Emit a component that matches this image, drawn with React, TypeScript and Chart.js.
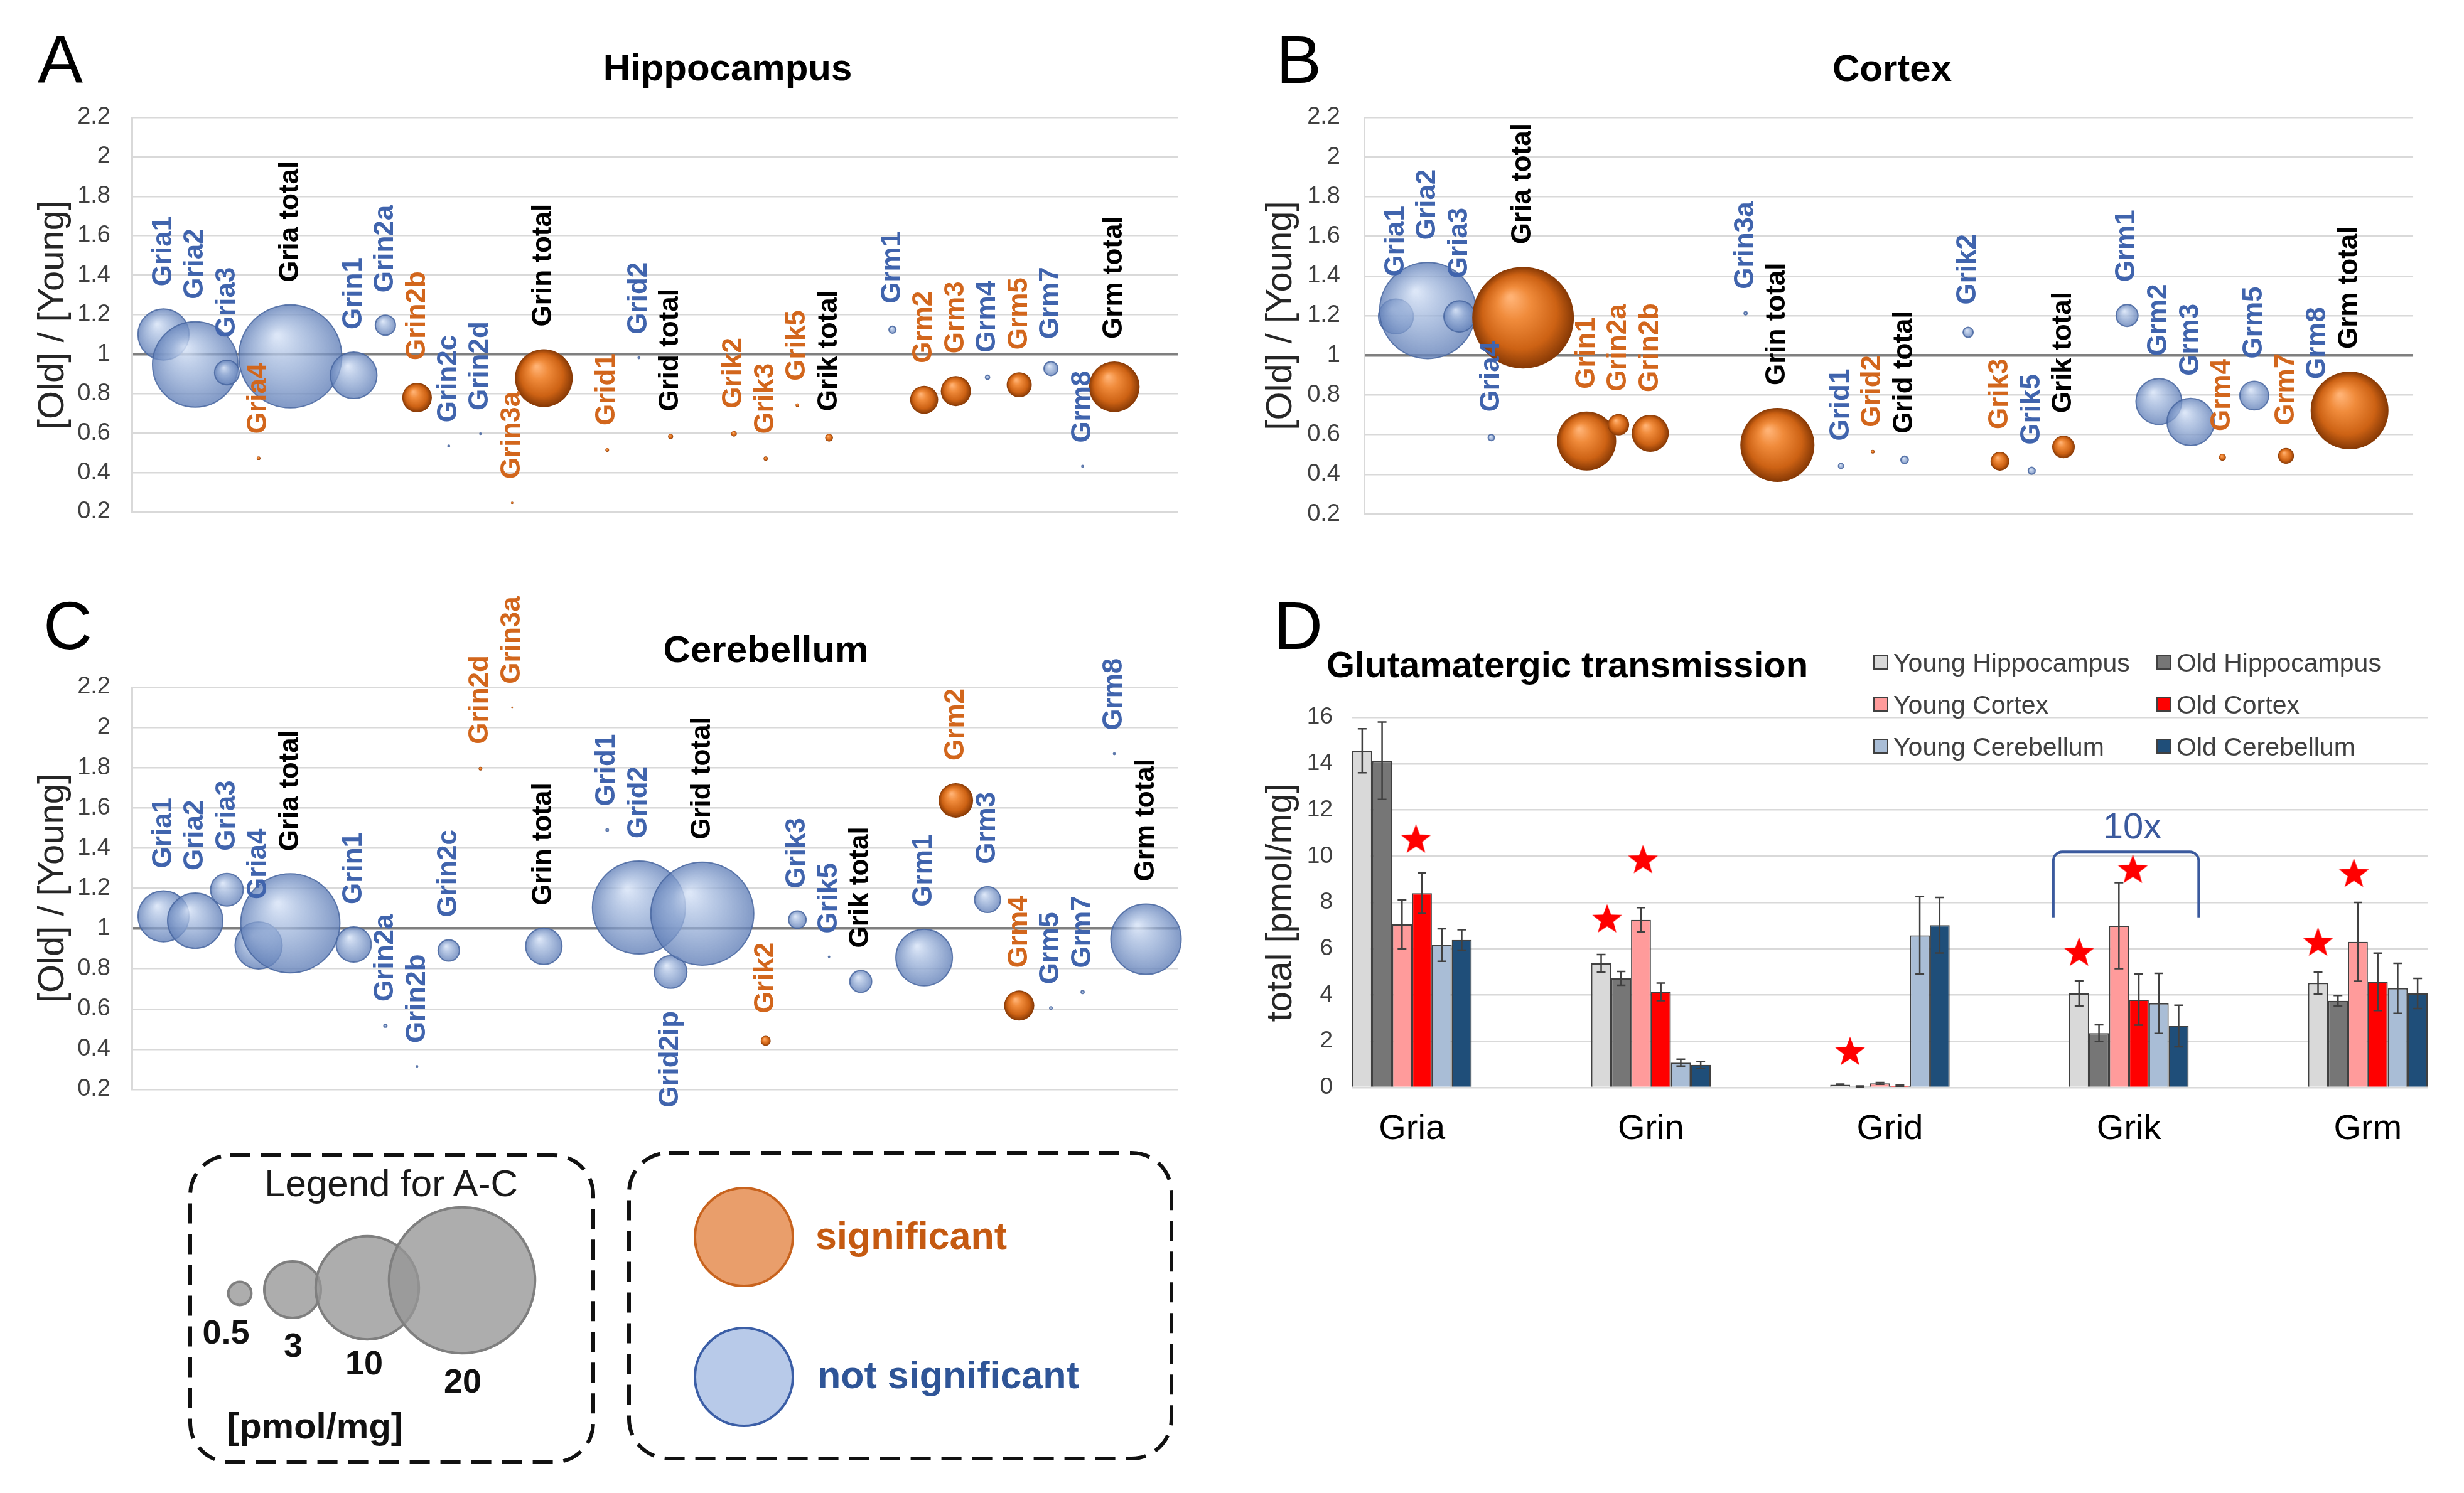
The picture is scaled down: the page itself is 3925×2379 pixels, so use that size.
import React, { useEffect, useRef } from 'react';
import { Chart, registerables } from 'chart.js';

Chart.register(...registerables);

const FONT = '"Liberation Sans", Arial, Helvetica, sans-serif';

// ---------------- Panels A–C : [Old]/[Young] ratio bubbles ----------------
const GENES = ['Gria1', 'Gria2', 'Gria3', 'Gria4', 'Gria total', 'Grin1', 'Grin2a', 'Grin2b', 'Grin2c', 'Grin2d', 'Grin3a', 'Grin total', 'Grid1', 'Grid2', 'Grid total', 'Grik2', 'Grik3', 'Grik5', 'Grik total', 'Grm1', 'Grm2', 'Grm3', 'Grm4', 'Grm5', 'Grm7', 'Grm8', 'Grm total'];
const GENES_CB = ['Gria1', 'Gria2', 'Gria3', 'Gria4', 'Gria total', 'Grin1', 'Grin2a', 'Grin2b', 'Grin2c', 'Grin2d', 'Grin3a', 'Grin total', 'Grid1', 'Grid2', 'Grid2ip', 'Grid total', 'Grik2', 'Grik3', 'Grik5', 'Grik total', 'Grm1', 'Grm2', 'Grm3', 'Grm4', 'Grm5', 'Grm7', 'Grm8', 'Grm total'];

// Hippocampus
const HIPPO_RATIO = [1.10, 0.948, 0.907, 0.473, 0.989, 0.893, 1.147, 0.78, 0.535, 0.597, 0.247, 0.879, 0.515, 0.982, 0.583, 0.597, 0.471, 0.742, 0.577, 1.124, 0.769, 0.813, 0.883, 0.845, 0.927, 0.432, 0.835];
const HIPPO_AMOUNT = [2.45, 6.84, 0.57, 0.013, 9.95, 2.03, 0.38, 0.82, 0.003, 0.002, 0.006, 3.13, 0.013, 0.003, 0.024, 0.03, 0.017, 0.012, 0.057, 0.046, 0.74, 0.85, 0.017, 0.59, 0.18, 0.003, 2.41];
const HIPPO_SIG = [0, 0, 0, 1, 0, 0, 0, 1, 0, 0, 1, 1, 1, 0, 1, 1, 1, 1, 1, 0, 1, 1, 0, 1, 0, 0, 1];

// Cortex (Grin2c / Grin2d not detected)
const CORTEX_RATIO = [1.196, 1.226, 1.196, 0.585, 1.19, 0.568, 0.65, 0.607, null, null, 1.212, 0.548, 0.442, 0.514, 0.473, 1.116, 0.466, 0.418, 0.538, 1.201, 0.767, 0.664, 0.486, 0.797, 0.493, 0.76, 0.722];
const CORTEX_AMOUNT = [1.14, 8.68, 0.92, 0.037, 9.7, 3.27, 0.43, 1.29, null, null, 0.009, 5.15, 0.024, 0.013, 0.053, 0.095, 0.33, 0.046, 0.48, 0.45, 1.97, 2.09, 0.046, 0.78, 0.235, 0.006, 5.69];
const CORTEX_SIG = [0, 0, 0, 0, 1, 1, 1, 1, 0, 0, 0, 1, 0, 1, 0, 0, 1, 0, 1, 0, 0, 0, 1, 0, 1, 0, 1];

// Cerebellum
const CB_RATIO = [1.061, 1.039, 1.193, 0.916, 1.026, 0.921, 0.517, 0.315, 0.891, 1.795, 2.10, 0.912, 1.49, 1.105, 0.784, 1.074, 0.442, 1.044, 0.86, 0.737, 0.856, 1.637, 1.144, 0.617, 0.605, 0.684, 1.869, 0.947];
const CB_AMOUNT = [2.44, 2.86, 1.0, 2.08, 9.23, 1.16, 0.009, 0.0015, 0.43, 0.013, 0.003, 1.24, 0.006, 8.1, 1.0, 9.95, 0.095, 0.29, 0.0015, 0.45, 3.0, 1.12, 0.63, 0.85, 0.006, 0.009, 0.003, 4.64];
const CB_SIG = [0, 0, 0, 0, 0, 0, 0, 0, 0, 1, 1, 0, 0, 0, 0, 0, 1, 0, 0, 0, 0, 1, 0, 1, 0, 0, 0, 0];
const CB_LABEL_BELOW = ['Grid2ip'];

const RATIO_TICKS = { min: 0.2, max: 2.2, step: 0.2 };
const SIZE_LEGEND = [0.5, 3, 10, 20];

// ---------------- Panel D : totals ----------------
const D_CATS = ['Gria', 'Grin', 'Grid', 'Grik', 'Grm'];
const D_SERIES = ['Young Hippocampus', 'Old Hippocampus', 'Young Cortex', 'Old Cortex', 'Young Cerebellum', 'Old Cerebellum'];
const YOUNG_HIPPO = [14.56, 5.37, 0.12, 4.07, 4.52];
const OLD_HIPPO = [14.13, 4.72, 0.05, 2.35, 3.75];
const YOUNG_CORTEX = [7.05, 7.25, 0.18, 7.0, 6.3];
const OLD_CORTEX = [8.4, 4.14, 0.08, 3.8, 4.57];
const YOUNG_CB = [6.16, 1.08, 6.58, 3.64, 4.29];
const OLD_CB = [6.38, 0.98, 7.02, 2.66, 4.07];
const YOUNG_HIPPO_ERR = [0.95, 0.38, 0.03, 0.55, 0.48];
const OLD_HIPPO_ERR = [1.67, 0.3, 0.02, 0.36, 0.23];
const YOUNG_CORTEX_ERR = [1.06, 0.53, 0.04, 1.86, 1.7];
const OLD_CORTEX_ERR = [0.87, 0.38, 0.02, 1.1, 1.24];
const YOUNG_CB_ERR = [0.7, 0.15, 1.68, 1.3, 1.08];
const OLD_CB_ERR = [0.44, 0.15, 1.2, 0.9, 0.65];
const D_VALUES = [YOUNG_HIPPO, OLD_HIPPO, YOUNG_CORTEX, OLD_CORTEX, YOUNG_CB, OLD_CB];
const D_ERRORS = [YOUNG_HIPPO_ERR, OLD_HIPPO_ERR, YOUNG_CORTEX_ERR, OLD_CORTEX_ERR, YOUNG_CB_ERR, OLD_CB_ERR];
const D_COLORS = ['#d9d9d9', '#767676', '#ff9b9b', '#ff0000', '#a9bdd6', '#1f4e79'];

// significance stars: category, bar slot (0..5 within group), height
const STAR_CAT = [0, 1, 1, 2, 3, 3, 4, 4];
const STAR_SLOT = [2.7, 0.3, 2.1, 0.5, 0, 2.7, 0, 1.8];
const STAR_Y = [10.73, 7.28, 9.84, 1.55, 5.84, 9.42, 6.27, 9.25];

const BRACKET_CAT = 3;
const BRACKET_SPAN = [-0.316, 0.292];
const BRACKET_TOP = 10.19;
const BRACKET_BOTTOM = 7.36;
const BRACKET_TEXT_Y = 11.2;
const BRACKET_LABEL = '10x';

// ---------------- styling constants ----------------
const K_BUBBLE = 26; // px radius per sqrt(pmol/mg)
const LABEL_GAP = 36;
const ORANGE_LABEL = '#d2661c';
const BLUE_LABEL = '#4064ad';
const GROUP_WIDTH = 0.5;

function familyOf(name: string) {
  return name.split(' ')[0].replace(/\d.*$/, '');
}
function positions(names: string[]) {
  let idx = 0;
  let prev = '';
  return names.map((n) => {
    const f = familyOf(n);
    idx += prev && f !== prev ? 2 : 1;
    prev = f;
    return idx;
  });
}
function buildPoints(names: string[], ratio: (number | null)[], amount: (number | null)[], sig: number[]) {
  const xs = positions(names);
  const pts: any[] = [];
  names.forEach((n, i) => {
    if (ratio[i] == null || amount[i] == null) return;
    pts.push({ x: xs[i], y: ratio[i], r: K_BUBBLE * Math.sqrt(amount[i] as number), name: n, sig: !!sig[i] });
  });
  return pts;
}

function sphereFill(c: any) {
  const raw = c.raw;
  const chart = c.chart;
  const fallback = raw && raw.sig ? '#d86a1c' : 'rgba(130,160,210,0.7)';
  if (!raw || !chart || !chart.scales || !chart.scales.x || !chart.scales.y) return fallback;
  const x = chart.scales.x.getPixelForValue(raw.x);
  const y = chart.scales.y.getPixelForValue(raw.y);
  const r = Math.max(raw.r, 0.8);
  if (!Number.isFinite(x) || !Number.isFinite(y) || !Number.isFinite(r)) return fallback;
  const g = chart.ctx.createRadialGradient(x - r * 0.25, y - r * 0.4, r * 0.04, x, y, r);
  if (raw.sig) {
    g.addColorStop(0, '#ffb274');
    g.addColorStop(0.3, '#f08b3b');
    g.addColorStop(0.72, '#cd6214');
    g.addColorStop(1, '#853805');
  } else {
    g.addColorStop(0, 'rgba(214,226,246,0.85)');
    g.addColorStop(0.45, 'rgba(150,174,215,0.74)');
    g.addColorStop(1, 'rgba(98,128,184,0.8)');
  }
  return g;
}

const geneLabels = {
  id: 'geneLabels',
  afterDatasetsDraw(chart: any, _args: any, opts: any) {
    const { ctx } = chart;
    const ds = chart.data.datasets[0];
    const meta = chart.getDatasetMeta(0);
    const below: string[] = (opts && opts.below) || [];
    ctx.save();
    ctx.font = `bold 44px ${FONT}`;
    ctx.textBaseline = 'middle';
    meta.data.forEach((el: any, i: number) => {
      const p = ds.data[i];
      const r = (el.options && el.options.radius) || 0;
      const isBelow = below.includes(p.name);
      ctx.save();
      ctx.translate(el.x, isBelow ? el.y + r + LABEL_GAP : el.y - r - LABEL_GAP);
      ctx.rotate(-Math.PI / 2);
      ctx.textAlign = isBelow ? 'right' : 'left';
      ctx.fillStyle = p.name.includes('total') ? '#000000' : p.sig ? ORANGE_LABEL : BLUE_LABEL;
      ctx.fillText(p.name, 0, 0);
      ctx.restore();
    });
    ctx.restore();
  },
};

type Box = { left: number; top: number; width: number; height: number };
type Area = { l: number; t: number; r: number; b: number };

function BubblePanel({ box, area, points, below, tickPad, titlePad }: { box: Box; area: Area; points: any[]; below: string[]; tickPad: number; titlePad: number }) {
  const ref = useRef<HTMLCanvasElement | null>(null);
  useEffect(() => {
    const canvas = ref.current as HTMLCanvasElement;
    const isOne = (c: any) => c.tick && Math.abs(c.tick.value - 1) < 1e-6;
    const chart = new Chart(canvas, {
      type: 'bubble',
      data: {
        datasets: [
          {
            data: points,
            backgroundColor: (c: any) => sphereFill(c),
            borderColor: (c: any) => (c.raw && c.raw.sig ? 'rgba(140,60,5,0.35)' : 'rgba(72,102,160,0.85)'),
            borderWidth: (c: any) => (c.raw && c.raw.sig ? 0 : 2),
            clip: false,
          } as any,
        ],
      },
      options: {
        animation: false,
        responsive: false,
        events: [],
        layout: {
          padding: {
            left: 0,
            top: area.t - box.top,
            right: box.left + box.width - area.r,
            bottom: box.top + box.height - area.b,
          },
        },
        plugins: {
          legend: { display: false },
          tooltip: { enabled: false },
          geneLabels: { below },
        } as any,
        scales: {
          x: { type: 'linear', min: 0, max: 33, display: false },
          y: {
            type: 'linear',
            min: RATIO_TICKS.min,
            max: RATIO_TICKS.max,
            ticks: {
              stepSize: RATIO_TICKS.step,
              padding: tickPad,
              color: '#404040',
              font: { family: FONT, size: 38 },
              callback: (v: any) => String(Math.round(Number(v) * 10) / 10),
            },
            grid: {
              color: (c: any) => (isOne(c) ? '#7f7f7f' : '#d9d9d9'),
              lineWidth: (c: any) => (isOne(c) ? 4.5 : 2.5),
              drawTicks: false,
            },
            border: { display: true, color: '#d9d9d9', width: 3 },
            title: {
              display: true,
              text: '[Old] / [Young]',
              color: '#262626',
              font: { family: FONT, size: 58 },
              padding: { top: titlePad, bottom: 0 },
            },
            afterFit: (s: any) => {
              s.width = area.l - box.left;
            },
          },
        },
      } as any,
      plugins: [geneLabels as any],
    });
    return () => chart.destroy();
  }, []);
  return <canvas ref={ref} width={box.width} height={box.height} style={{ position: 'absolute', left: box.left, top: box.top }} />;
}

function makeStar(): HTMLCanvasElement {
  const c = document.createElement('canvas');
  c.width = 52;
  c.height = 52;
  const g = c.getContext('2d') as CanvasRenderingContext2D;
  g.beginPath();
  for (let k = 0; k < 10; k++) {
    const a = -Math.PI / 2 + (k * Math.PI) / 5;
    const rr = k % 2 === 0 ? 25 : 10.5;
    const px = 26 + rr * Math.cos(a);
    const py = 27 + rr * Math.sin(a);
    if (k === 0) g.moveTo(px, py);
    else g.lineTo(px, py);
  }
  g.closePath();
  g.fillStyle = '#ff0000';
  g.fill();
  return c;
}

const errorBars = {
  id: 'errorBars',
  afterDatasetsDraw(chart: any) {
    const { ctx } = chart;
    const y = chart.scales.y;
    ctx.save();
    ctx.strokeStyle = '#404040';
    ctx.lineWidth = 2.5;
    D_ERRORS.forEach((errs, s) => {
      const meta = chart.getDatasetMeta(s);
      meta.data.forEach((bar: any, i: number) => {
        const v = D_VALUES[s][i];
        const e = errs[i];
        const top = y.getPixelForValue(v + e);
        const bot = y.getPixelForValue(Math.max(0, v - e));
        ctx.beginPath();
        ctx.moveTo(bar.x, top);
        ctx.lineTo(bar.x, bot);
        ctx.moveTo(bar.x - 7, top);
        ctx.lineTo(bar.x + 7, top);
        ctx.moveTo(bar.x - 7, bot);
        ctx.lineTo(bar.x + 7, bot);
        ctx.stroke();
      });
    });
    ctx.restore();
  },
};

const bracket = {
  id: 'bracket',
  afterDatasetsDraw(chart: any) {
    const { ctx } = chart;
    const { x, y } = chart.scales;
    const x0 = x.getPixelForValue(BRACKET_CAT + BRACKET_SPAN[0]);
    const x1 = x.getPixelForValue(BRACKET_CAT + BRACKET_SPAN[1]);
    const yt = y.getPixelForValue(BRACKET_TOP);
    const yb = y.getPixelForValue(BRACKET_BOTTOM);
    const rad = 14;
    ctx.save();
    ctx.strokeStyle = '#3b5a9e';
    ctx.lineWidth = 4;
    ctx.beginPath();
    ctx.moveTo(x0, yb);
    ctx.arcTo(x0, yt, x0 + rad, yt, rad);
    ctx.arcTo(x1, yt, x1, yt + rad, rad);
    ctx.lineTo(x1, yb);
    ctx.stroke();
    ctx.font = `58px ${FONT}`;
    ctx.fillStyle = '#3b5a9e';
    ctx.textAlign = 'center';
    ctx.textBaseline = 'middle';
    ctx.fillText(BRACKET_LABEL, (x0 + x1) / 2 + 10, y.getPixelForValue(BRACKET_TEXT_Y));
    ctx.restore();
  },
};

function BarPanel({ box, area }: { box: Box; area: Area }) {
  const ref = useRef<HTMLCanvasElement | null>(null);
  useEffect(() => {
    const canvas = ref.current as HTMLCanvasElement;
    const star = makeStar();
    const slotWidth = GROUP_WIDTH / D_SERIES.length;
    const xAxisHeight = 90;
    const chart = new Chart(canvas, {
      type: 'bar',
      data: {
        datasets: [
          ...D_SERIES.map((label, s) => ({
            type: 'bar',
            label,
            data: D_VALUES[s].map((v, i) => ({ x: i, y: v })),
            backgroundColor: D_COLORS[s],
            borderColor: '#404040',
            borderWidth: 2,
            barPercentage: 1,
            categoryPercentage: GROUP_WIDTH,
            order: 2,
          })),
          {
            type: 'scatter',
            label: 'significance',
            data: STAR_CAT.map((c, k) => ({ x: c + (STAR_SLOT[k] - 2.5) * slotWidth, y: STAR_Y[k] })),
            pointStyle: star,
            pointRadius: 24,
            order: 0,
          },
        ] as any,
      },
      options: {
        animation: false,
        responsive: false,
        events: [],
        layout: {
          padding: {
            left: 0,
            top: area.t - box.top,
            right: box.left + box.width - area.r,
            bottom: box.top + box.height - area.b - xAxisHeight,
          },
        },
        plugins: { legend: { display: false }, tooltip: { enabled: false } },
        scales: {
          x: {
            type: 'linear',
            min: -0.25,
            max: 4.25,
            offset: false,
            grid: { display: false, drawTicks: false },
            border: { display: false },
            afterBuildTicks: (s: any) => {
              s.ticks = D_CATS.map((_, i) => ({ value: i }));
            },
            ticks: {
              autoSkip: false,
              maxRotation: 0,
              padding: 33,
              color: '#000000',
              font: { family: FONT, size: 56 },
              callback: (v: any) => D_CATS[Math.round(Number(v))] ?? '',
            },
            afterFit: (s: any) => {
              s.height = xAxisHeight;
            },
          },
          y: {
            type: 'linear',
            min: 0,
            max: 16,
            ticks: { stepSize: 2, padding: 31, color: '#404040', font: { family: FONT, size: 37 } },
            grid: { color: '#d9d9d9', lineWidth: 2.5, drawTicks: false },
            border: { display: false },
            title: {
              display: true,
              text: 'total [pmol/mg]',
              color: '#262626',
              font: { family: FONT, size: 58 },
              padding: { top: 46, bottom: 0 },
            },
            afterFit: (s: any) => {
              s.width = area.l - box.left;
            },
          },
        },
      } as any,
      plugins: [errorBars as any, bracket as any],
    });
    return () => chart.destroy();
  }, []);
  return <canvas ref={ref} width={box.width} height={box.height} style={{ position: 'absolute', left: box.left, top: box.top }} />;
}

const SVG_FONT = 'Liberation Sans, Arial, Helvetica, sans-serif';

function Overlay() {
  const sizeCx = [382, 466, 585, 736];
  const sizeCy = [2061, 2055, 2052, 2040];
  const sizeLabelX = [360, 467, 580, 737];
  const sizeLabelY = [2141, 2162, 2190, 2219];
  const legRows = [1055, 1122, 1189];
  const legCols = [2985, 3436];
  return (
    <svg width={3925} height={2379} style={{ position: 'absolute', left: 0, top: 0, pointerEvents: 'none' }}>
      <g fontFamily={SVG_FONT} fill="#000">
        <text x={60} y={132} fontSize={108}>A</text>
        <text x={2033} y={132} fontSize={108}>B</text>
        <text x={69} y={1034} fontSize={108}>C</text>
        <text x={2029} y={1034} fontSize={108}>D</text>
        <text x={1159} y={128} fontSize={60} fontWeight="bold" textAnchor="middle">Hippocampus</text>
        <text x={3014} y={129} fontSize={60} fontWeight="bold" textAnchor="middle">Cortex</text>
        <text x={1220} y={1055} fontSize={60} fontWeight="bold" textAnchor="middle">Cerebellum</text>
        <text x={2113} y={1079} fontSize={58} fontWeight="bold">Glutamatergic transmission</text>
      </g>

      <g fontFamily={SVG_FONT} fontSize={41} fill="#404040">
        {D_SERIES.map((s, i) => {
          const col = i % 2;
          const row = Math.floor(i / 2);
          return (
            <g key={s}>
              <rect x={legCols[col]} y={legRows[row] - 11} width={22} height={22} fill={D_COLORS[i]} stroke="#404040" strokeWidth={2} />
              <text x={legCols[col] + 31} y={legRows[row] + 15}>{s}</text>
            </g>
          );
        })}
      </g>

      <rect x={303} y={1841} width={642} height={489} rx={63} ry={63} fill="none" stroke="#111" strokeWidth={6} strokeDasharray="32 17" />
      <text x={623} y={1906} fontFamily={SVG_FONT} fontSize={60} textAnchor="middle" fill="#1a1a1a">Legend for A-C</text>
      {SIZE_LEGEND.map((v, i) => (
        <circle key={'c' + v} cx={sizeCx[i]} cy={sizeCy[i]} r={K_BUBBLE * Math.sqrt(v)} fill="rgba(150,150,150,0.78)" stroke="#7f7f7f" strokeWidth={4} />
      ))}
      {SIZE_LEGEND.map((v, i) => (
        <text key={'t' + v} x={sizeLabelX[i]} y={sizeLabelY[i]} fontFamily={SVG_FONT} fontSize={54} fontWeight="bold" textAnchor="middle" fill="#111">{String(v)}</text>
      ))}
      <text x={502} y={2292} fontFamily={SVG_FONT} fontSize={58} fontWeight="bold" textAnchor="middle" fill="#111">[pmol/mg]</text>

      <rect x={1002} y={1837} width={864} height={487} rx={63} ry={63} fill="none" stroke="#111" strokeWidth={6} strokeDasharray="32 17" />
      <circle cx={1185} cy={1971} r={78} fill="#e99e6b" stroke="#c8631e" strokeWidth={4} />
      <circle cx={1185} cy={2194} r={78} fill="#b8cae9" stroke="#3b5ea6" strokeWidth={4} />
      <text x={1299} y={1990} fontFamily={SVG_FONT} fontSize={61} fontWeight="bold" fill="#c55a11">significant</text>
      <text x={1302} y={2212} fontFamily={SVG_FONT} fontSize={61} fontWeight="bold" fill="#2f5597">not significant</text>
    </svg>
  );
}

export default function App() {
  const hippo = buildPoints(GENES, HIPPO_RATIO, HIPPO_AMOUNT, HIPPO_SIG);
  const cortex = buildPoints(GENES, CORTEX_RATIO, CORTEX_AMOUNT, CORTEX_SIG);
  const cereb = buildPoints(GENES_CB, CB_RATIO, CB_AMOUNT, CB_SIG);
  return (
    <div style={{ position: 'fixed', left: 0, top: 0, width: 3925, height: 2379, background: '#ffffff', overflow: 'hidden' }}>
      <BubblePanel box={{ left: 0, top: 0, width: 1960, height: 900 }} area={{ l: 210, t: 187, r: 1921, b: 855 }} points={hippo} below={[]} tickPad={34} titlePad={50} />
      <BubblePanel box={{ left: 1960, top: 0, width: 1965, height: 900 }} area={{ l: 2173, t: 187, r: 3883, b: 867 }} points={cortex} below={[]} tickPad={38} titlePad={46} />
      <BubblePanel box={{ left: 0, top: 900, width: 1960, height: 920 }} area={{ l: 210, t: 1095, r: 1921, b: 1764 }} points={cereb} below={CB_LABEL_BELOW} tickPad={34} titlePad={50} />
      <BarPanel box={{ left: 1960, top: 1090, width: 1965, height: 770 }} area={{ l: 2154, t: 1127, r: 3867, b: 1733 }} />
      <Overlay />
    </div>
  );
}
